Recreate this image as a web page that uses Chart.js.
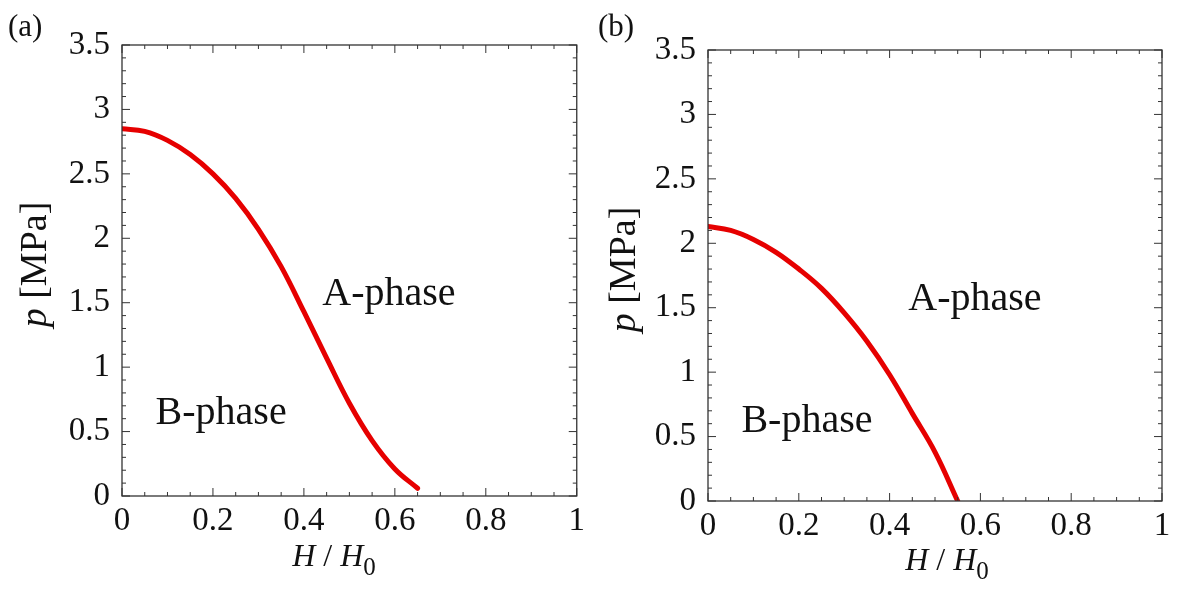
<!DOCTYPE html>
<html>
<head>
<meta charset="utf-8">
<script src="https://cdn.jsdelivr.net/npm/chart.js@4/dist/chart.umd.min.js"></script>
<style>
  html, body { margin: 0; padding: 0; background: #fff; }
  .panel { position: absolute; top: 0; width: 591px; height: 592px; }
  #wrapA { left: 0; }
  #wrapB { left: 591px; }
</style>
</head>
<body>
<div class="panel" id="wrapA"><canvas id="chartA"></canvas></div>
<div class="panel" id="wrapB"><canvas id="chartB"></canvas></div>
<script>
// phase boundary (a)
const hA = [0, 0.05, 0.1, 0.15, 0.2, 0.25, 0.3, 0.35, 0.4, 0.45, 0.5, 0.55, 0.6, 0.65];
const pA = [2.85, 2.83, 2.76, 2.65, 2.50, 2.31, 2.07, 1.78, 1.43, 1.07, 0.72, 0.43, 0.21, 0.06];

// phase boundary (b)
const hB = [0, 0.05, 0.1, 0.15, 0.2, 0.25, 0.3, 0.35, 0.4, 0.45, 0.5, 0.55];
const pB = [2.13, 2.10, 2.03, 1.93, 1.80, 1.65, 1.46, 1.24, 0.98, 0.68, 0.38, 0];

const xTicks = [0, 0.2, 0.4, 0.6, 0.8, 1];
const yTicks = [0, 0.5, 1, 1.5, 2, 2.5, 3, 3.5];

const SERIF = '"Liberation Serif", "Times New Roman", serif';
const RED = '#e60000';

// frame with inward ticks on all four sides, plus text bits
const framePlugin = {
    id: 'frame',
    afterDraw(chart, args, opts) {
        const ctx = chart.ctx;
        const a = chart.chartArea;
        const xs = chart.scales.x;
        const ys = chart.scales.y;
        ctx.save();
        ctx.strokeStyle = '#333';
        ctx.lineWidth = 1.3;
        ctx.strokeRect(a.left, a.top, a.right - a.left, a.bottom - a.top);

        ctx.lineWidth = 1;
        ctx.beginPath();
        for (let i = 0; i <= 20; i++) {
            const v = i * 0.05;
            const len = (i % 4 === 0) ? 8 : 4;
            const px = xs.getPixelForValue(v);
            ctx.moveTo(px, a.bottom); ctx.lineTo(px, a.bottom - len);
            ctx.moveTo(px, a.top); ctx.lineTo(px, a.top + len);
        }
        for (let i = 0; i <= 35; i++) {
            const v = i * 0.1;
            const len = (i % 5 === 0) ? 8 : 4;
            const py = ys.getPixelForValue(v);
            ctx.moveTo(a.left, py); ctx.lineTo(a.left + len, py);
            ctx.moveTo(a.right, py); ctx.lineTo(a.right - len, py);
        }
        ctx.stroke();

        ctx.fillStyle = '#111';
        ctx.textBaseline = 'middle';

        // phase labels
        ctx.font = '40px ' + SERIF;
        ctx.textAlign = 'center';
        opts.labels.forEach(l => {
            ctx.fillText(l.text, xs.getPixelForValue(l.h), ys.getPixelForValue(l.p));
        });

        // panel tag
        ctx.textAlign = 'left';
        ctx.font = '31px ' + SERIF;
        ctx.fillText(opts.tag, opts.tagX, 28);

        // x title: H / H0
        const parts = [
            { t: 'H', f: 'italic 32px ' + SERIF, dy: 0 },
            { t: ' / ', f: '32px ' + SERIF, dy: 0 },
            { t: 'H', f: 'italic 32px ' + SERIF, dy: 0 },
            { t: '0', f: '25px ' + SERIF, dy: 10 }
        ];
        let total = 0;
        parts.forEach(p => { ctx.font = p.f; p.w = ctx.measureText(p.t).width; total += p.w; });
        let x = opts.xTitleX - total / 2;
        parts.forEach(p => {
            ctx.font = p.f;
            ctx.fillText(p.t, x, opts.xTitleY + p.dy);
            x += p.w;
        });

        // y title: p [MPa], rotated
        ctx.translate(opts.yTitleX, (a.top + a.bottom) / 2 - 6);
        ctx.rotate(-Math.PI / 2);
        const yparts = [
            { t: 'p', f: 'italic 38px ' + SERIF },
            { t: ' [MPa]', f: '38px ' + SERIF }
        ];
        total = 0;
        yparts.forEach(p => { ctx.font = p.f; p.w = ctx.measureText(p.t).width; total += p.w; });
        x = -total / 2;
        yparts.forEach(p => {
            ctx.font = p.f;
            ctx.fillText(p.t, x, 0);
            x += p.w;
        });
        ctx.restore();
    }
};

function makeChart(id, hs, ps, cfg) {
    const pts = hs.map((h, i) => ({ x: h, y: ps[i] }));
    return new Chart(document.getElementById(id), {
        type: 'scatter',
        data: {
            datasets: [{
                data: pts,
                showLine: true,
                borderColor: RED,
                borderWidth: 5,
                pointRadius: 0,
                tension: 0.4,
                borderCapStyle: 'round'
            }]
        },
        options: {
            responsive: true,
            maintainAspectRatio: false,
            animation: false,
            events: [],
            layout: { padding: { left: 0, top: cfg.top, right: cfg.right, bottom: 0 } },
            plugins: {
                legend: { display: false },
                tooltip: { enabled: false },
                frame: cfg.frame
            },
            scales: {
                x: {
                    type: 'linear',
                    min: 0, max: 1,
                    grid: { display: false, drawTicks: false },
                    border: { display: false },
                    afterBuildTicks: s => { s.ticks = xTicks.map(v => ({ value: v })); },
                    afterFit: s => { s.height = cfg.xHeight; },
                    ticks: {
                        autoSkip: false,
                        maxRotation: 0,
                        padding: 6,
                        color: '#111',
                        font: { family: SERIF, size: 33 },
                        callback: v => String(+v.toFixed(1))
                    }
                },
                y: {
                    type: 'linear',
                    min: 0, max: 3.5,
                    grid: { display: false, drawTicks: false },
                    border: { display: false },
                    afterBuildTicks: s => { s.ticks = yTicks.map(v => ({ value: v })); },
                    afterFit: s => { s.width = cfg.yWidth; },
                    ticks: {
                        autoSkip: false,
                        padding: 12,
                        color: '#111',
                        font: { family: SERIF, size: 33 },
                        callback: v => String(+v.toFixed(1))
                    }
                }
            }
        },
        plugins: [framePlugin]
    });
}

makeChart('chartA', hA, pA, {
    top: 45, right: 14, xHeight: 96, yWidth: 122,
    frame: {
        tag: '(a)', tagX: 8, yTitleX: 36, xTitleX: 334, xTitleY: 558,
        labels: [
            { text: 'A-phase', h: 0.587, p: 1.56 },
            { text: 'B-phase', h: 0.218, p: 0.64 }
        ]
    }
});

makeChart('chartB', hB, pB, {
    top: 50, right: 20, xHeight: 91, yWidth: 117,
    frame: {
        tag: '(b)', tagX: 7, yTitleX: 34, xTitleX: 356, xTitleY: 562,
        labels: [
            { text: 'A-phase', h: 0.588, p: 1.56 },
            { text: 'B-phase', h: 0.218, p: 0.62 }
        ]
    }
});
</script>
</body>
</html>
